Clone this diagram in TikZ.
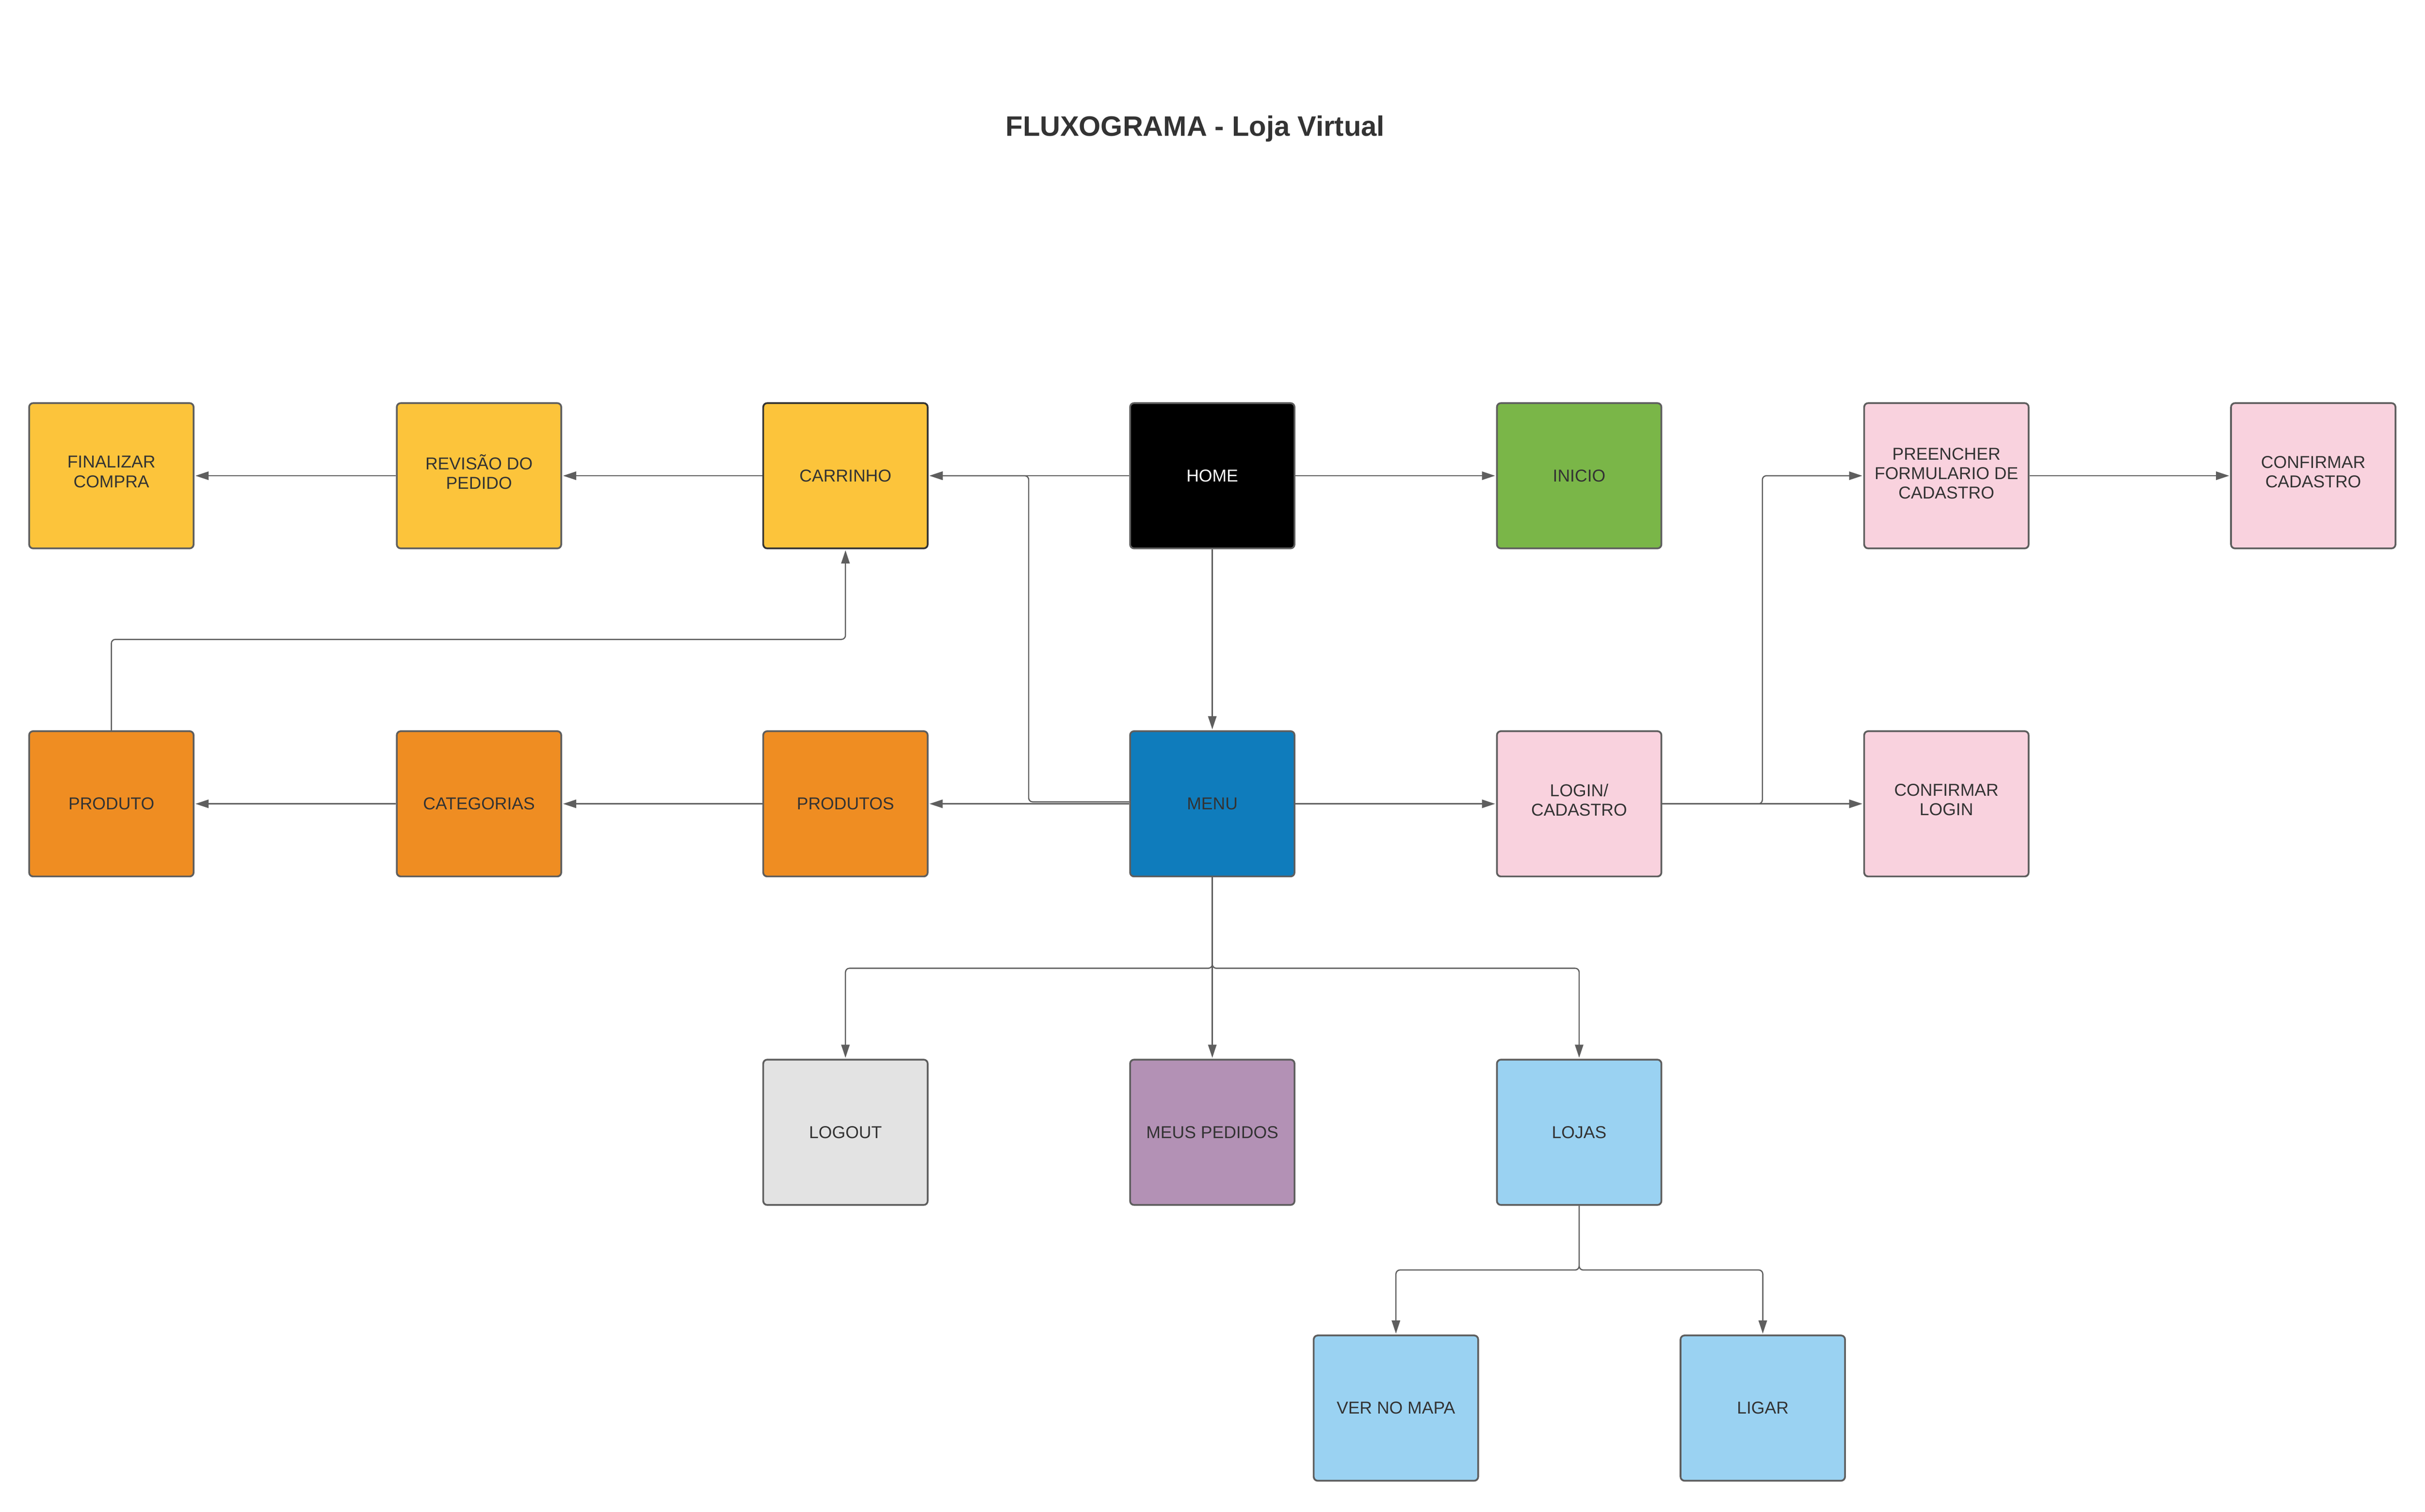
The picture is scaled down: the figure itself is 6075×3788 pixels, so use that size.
\documentclass[tikz,border=0pt]{standalone}
\usepackage{fontspec}
\setmainfont{Liberation Sans}
\usetikzlibrary{arrows.meta}
\definecolor{cyellow}{HTML}{FCC43B}
\definecolor{corange}{HTML}{EF8D22}
\definecolor{cblue}{HTML}{0F7CBC}
\definecolor{cgreen}{HTML}{7AB648}
\definecolor{cpink}{HTML}{F9D2DE}
\definecolor{cgray}{HTML}{E3E3E3}
\definecolor{cpurple}{HTML}{B391B5}
\definecolor{clblue}{HTML}{9AD2F2}
\definecolor{cline}{HTML}{5E5E5E}
\definecolor{ctext}{HTML}{333333}
\newcommand{\upfive}{\rule[-5pt]{0pt}{0pt}}
\newcommand{\upthree}{\rule[-3pt]{0pt}{0pt}}
\tikzset{
  box/.style={draw=cline, line width=1.1pt, rounded corners=2.5pt,
    minimum width=103pt, minimum height=91pt, inner sep=0pt,
    align=center, text=ctext, font=\fontsize{10.8}{12.2}\selectfont},
  conn/.style={draw=cline, line width=0.75pt, rounded corners=2.5pt,
    -{Triangle[length=8.25pt,width=5.25pt]}, shorten >=0.6pt}
}
\begin{document}
\begin{tikzpicture}[x=0.25pt,y=-0.25pt]
\useasboundingbox (0,0) rectangle (6075,3788);
\node[font=\bfseries\fontsize{17.6}{20}\selectfont, text=ctext] (title) at (2994,323) {FLUXOGRAMA - Loja Virtual};
% row 1
\node[box, fill=cyellow] (fin) at (279,1192) {FINALIZAR\\COMPRA\upfive};
\node[box, fill=cyellow] (rev) at (1200,1192) {REVISÃO DO\\PEDIDO\upfive};
\node[box, fill=cyellow, draw=ctext] (car) at (2118,1192) {CARRINHO};
\node[box, fill=black, text=white] (home) at (3037,1192) {HOME};
\node[box, fill=cgreen] (ini) at (3956,1192) {INICIO};
\node[box, fill=cpink] (pre) at (4876,1192) {PREENCHER\\FORMULARIO DE\\CADASTRO\upthree};
\node[box, fill=cpink] (ccad) at (5795,1192) {CONFIRMAR\\CADASTRO\upfive};
% row 2
\node[box, fill=corange] (prod) at (279,2014) {PRODUTO};
\node[box, fill=corange] (cat) at (1200,2014) {CATEGORIAS};
\node[box, fill=corange] (prods) at (2118,2014) {PRODUTOS};
\node[box, fill=cblue] (menu) at (3037,2014) {MENU};
\node[box, fill=cpink] (login) at (3956,2014) {LOGIN/\\CADASTRO\upfive};
\node[box, fill=cpink] (clog) at (4876,2014) {CONFIRMAR\\LOGIN\upfive};
% row 3
\node[box, fill=cgray] (logout) at (2118,2837) {LOGOUT};
\node[box, fill=cpurple] (meus) at (3037,2837) {MEUS PEDIDOS};
\node[box, fill=clblue] (lojas) at (3956,2837) {LOJAS};
% row 4
\node[box, fill=clblue] (mapa) at (3497,3528) {VER NO MAPA};
\node[box, fill=clblue] (ligar) at (4416,3528) {LIGAR};
% junction coordinates
\coordinate (jm) at (3037,2426);
\coordinate (jl) at (3956,3182);
\coordinate (xc) at (2577,1192);
\coordinate (xl) at (4415,1192);
\coordinate (yp) at (279,1602);
% connectors
\draw[conn] (home) -- (car);
\draw[conn] (home) -- (ini);
\draw[conn] (home) -- (menu);
\draw[conn] ([yshift=1.2pt]menu.west) -| (xc) -- (car.east);
\draw[conn] (menu) -- (prods);
\draw[conn] (prods) -- (cat);
\draw[conn] (cat) -- (prod);
\draw[conn] (prod.north) -- (yp) -| (car.south);
\draw[conn] (car) -- (rev);
\draw[conn] (rev) -- (fin);
\draw[conn] (menu) -- (login);
\draw[conn] (login) -- (clog);
\draw[conn] (login.east) -| (xl) -- (pre.west);
\draw[conn] (pre) -- (ccad);
\draw[conn] (menu.south) -- (meus.north);
\draw[conn] (menu.south) |- (jm) -| (logout.north);
\draw[conn] (menu.south) |- (jm) -| (lojas.north);
\draw[conn] (lojas.south) |- (jl) -| (mapa.north);
\draw[conn] (lojas.south) |- (jl) -| (ligar.north);
\end{tikzpicture}
\end{document}
